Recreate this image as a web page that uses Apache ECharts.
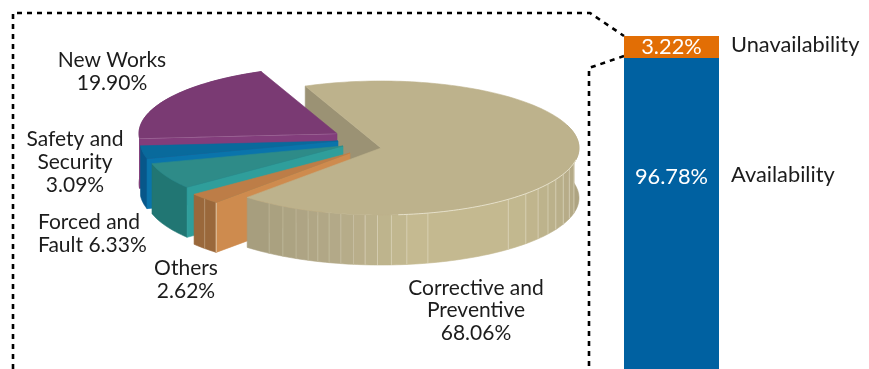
<!DOCTYPE html>
<html>
<head>
<meta charset="utf-8">
<style>html,body{margin:0;padding:0;background:#fff}#c{width:869px;height:369px}</style>
<script src="https://cdn.jsdelivr.net/npm/echarts@6/dist/echarts.min.js"></script>
</head>
<body>
<div id="c"></div>
<script>
// ---- data ----
const sliceNames = ['Corrective and Preventive', 'Others', 'Forced and Fault', 'Safety and Security', 'New Works'];
const sliceValues = [68.06, 2.62, 6.33, 3.09, 19.90];
const barCategories = ['Availability'];
const availabilityValues = [96.78];
const unavailabilityValues = [3.22];

// ---- layout and style ----
const FONT = 'Lato';
const FS = 21;
const FS_BAR = 21.8;
const startAngle = -22.5;
const rx = 198, ry = 67, depth = 50;
const tips = [[381,148],[350,153],[343,146],[338,141],[337,133.5]];
const palette = [
  {top:'#bdb28c', wall:'#9b9274', outer:'#b5aa85'},
  {top:'#bd7d47', wall:'#ce8b4e', outer:'#9a683b'},
  {top:'#2e8b88', wall:'#2f9e9b', outer:'#217673'},
  {top:'#096a9c', wall:'#0a74ab', outer:'#07578a'},
  {top:'#7a3a73', wall:'#823d7b', outer:'#6b3368'}
];
const ribAngles = [103,108,113,118,122.5,127.5,133,140,166.3,172.5,177,181,184.6,188,191.7,195.2,198.6,201.6,205.4,209.7,214.4];
const shadeStops = [[70,[168,158,126]],[105,[180,170,135]],[140,[196,185,144]],[170,[197,186,145]],[195,[178,168,135]],[223,[165,156,124]]];
const labelSpecs = [
  {lines:['Corrective and','Preventive','{v}%'], x:476, y:288, lh:22.5, align:'center'},
  {lines:['Others','{v}%'], x:186, y:268, lh:23, align:'center'},
  {lines:['Forced and','Fault {v}%'], x:38, y:222, lh:23, align:'left'},
  {lines:['Safety and','Security','{v}%'], x:75, y:139, lh:23, align:'center'},
  {lines:['New Works','{v}%'], x:112, y:60, lh:23, align:'center'}
];

const total = sliceValues.reduce((a,b)=>a+b,0);
let acc = startAngle;
const spans = sliceValues.map(v => { const a0 = acc; acc += v/total*360; return [a0, acc]; });
const rad = d => d*Math.PI/180;
const P = (t,a,dz) => [t[0]+rx*Math.sin(rad(a)), t[1]-ry*Math.cos(rad(a))+(dz||0)];
const arc = (t,a0,a1,dz) => {
  const out=[]; const n=Math.max(2,Math.ceil(Math.abs(a1-a0)/1.5));
  for(let i=0;i<=n;i++) out.push(P(t,a0+(a1-a0)*i/n,dz));
  return out;
};
const poly = (points,fill,stroke) => ({type:'polygon',shape:{points},style:{fill,stroke:stroke||fill,lineWidth:0.6}});
const line = (points,stroke,w) => ({type:'polyline',shape:{points},style:{fill:'none',stroke,lineWidth:w||1}});
const wallQuad = (t,a,c) => poly([t,P(t,a),P(t,a,depth),[t[0],t[1]+depth]],c);
const shade = a => {
  for(let i=0;i<shadeStops.length-1;i++){
    const [a0,c0]=shadeStops[i],[a1,c1]=shadeStops[i+1];
    if(a<=a1){const f=Math.max(0,(a-a0)/(a1-a0));return 'rgb('+c0.map((v,k)=>Math.round(v+(c1[k]-v)*f)).join(',')+')';}
  }
  return 'rgb(165,156,124)';
};

function drawSlice(i){
  const t=tips[i],[a0,a1]=spans[i],c=palette[i],ch=[];
  if(i===0){
    const edges=[70,...ribAngles,a1];
    for(let k=0;k<edges.length-1;k++){
      const front=arc(t,edges[k],edges[k+1]),back=arc(t,edges[k+1],edges[k],depth);
      ch.push(poly(front.concat(back),shade((edges[k]+edges[k+1])/2)));
    }
    ribAngles.forEach(a=>ch.push(line([P(t,a),P(t,a,depth)],a>186?'rgba(235,230,210,0.28)':'rgba(235,230,210,0.5)',1)));
    ch.push(poly([t].concat(arc(t,a0,a1)),c.top));
    ch.push(line(arc(t,100,175),'rgba(235,230,210,0.85)',1));
  } else {
    ch.push(poly(arc(t,a0,a1).concat(arc(t,a1,a0,depth)),c.outer));
    ch.push(wallQuad(t,a0,c.wall));
    if(i===1){
      const m=(a0+a1)/2;
      ch.push(line([P(t,m),P(t,m,depth)],'rgba(235,220,200,0.35)',1));
      ch.push(line([P(t,a0),P(t,a0,depth)],'rgba(235,225,205,0.7)',1));
    }
    if(i===4) ch.push(line([t,P(t,a0)],'rgba(215,180,210,0.8)',1));
    ch.push(poly([t].concat(arc(t,a0,a1)),c.top));
  }
  return {type:'group',children:ch};
}

const texts=[];
labelSpecs.forEach((s,i)=>{
  s.lines.forEach((l,k)=>texts.push({type:'text',x:s.x,y:s.y+k*s.lh,silent:true,
    style:{text:l.replace('{v}',sliceValues[i].toFixed(2)),fill:'#1c1c1c',font:FS+'px '+FONT,align:s.align,verticalAlign:'middle'}}));
});
[[barCategories[0],175],['Unavailability',45]].forEach(([n,y])=>texts.push({type:'text',x:731,y,silent:true,
  style:{text:n,fill:'#1c1c1c',font:FS_BAR+'px '+FONT,align:'left',verticalAlign:'middle'}}));

const dash=(points)=>({type:'polyline',silent:true,shape:{points},style:{fill:'none',stroke:'#000',lineWidth:2.6,lineDash:[5,5]}});

const chart=echarts.init(document.getElementById('c'),null,{renderer:'canvas'});
const order=[4,3,2,1,0];
chart.setOption({
  animation:false,
  backgroundColor:'#fff',
  grid:{left:624,top:36,width:95,height:683,containLabel:false,outerBoundsMode:'none'},
  xAxis:{type:'category',data:barCategories,show:false},
  yAxis:{type:'value',min:0,max:100,show:false},
  graphic:{elements:[
    dash([[13,369],[13,13],[590,13],[624,36]]),
    dash([[624,56],[589,68],[589,369]]),
    ...texts
  ]},
  series:[
    {type:'bar',stack:'t',barWidth:95,data:availabilityValues,itemStyle:{color:'#0061a1'},silent:true,
     label:{show:true,position:'insideTop',distance:108,formatter:p=>p.value.toFixed(2)+'%',color:'#fff',fontFamily:FONT,fontSize:FS_BAR}},
    {type:'bar',stack:'t',barWidth:95,data:unavailabilityValues,itemStyle:{color:'#e26e05'},silent:true,
     label:{show:true,position:'inside',formatter:p=>p.value.toFixed(2)+'%',color:'#fff',fontFamily:FONT,fontSize:FS_BAR}},
    {type:'custom',coordinateSystem:'none',silent:true,z:1,data:[sliceValues[0]],
     renderItem:()=>{const t=tips[0];return wallQuad(t,spans[0][0],palette[0].wall);}},
    {type:'custom',coordinateSystem:'none',silent:true,z:2,
     data:order.map(i=>({name:sliceNames[i],value:sliceValues[i]})),
     renderItem:(p)=>drawSlice(order[p.dataIndex])}
  ]
});
</script>
</body>
</html>
